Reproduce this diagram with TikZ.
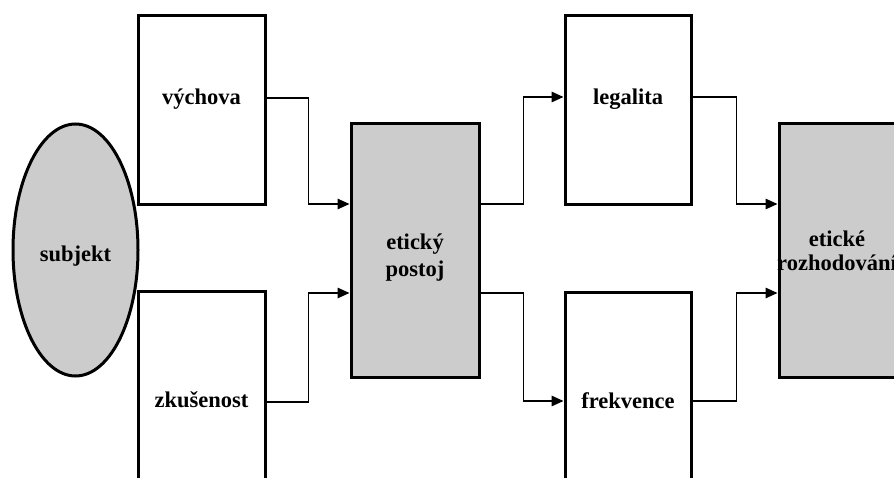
\documentclass[tikz,border=0pt]{standalone}
\usepackage{fontspec}
\setmainfont{Liberation Serif}
\usetikzlibrary{positioning,arrows.meta,shapes.geometric}
\definecolor{shade}{RGB}{204,204,204}

\begin{document}
\begin{tikzpicture}[x=1pt, y=-1pt,
    box/.style={rectangle, draw, line width=3pt, inner sep=0pt},
    blob/.style={ellipse, draw, line width=3pt, fill=shade, inner sep=0pt, minimum width=125pt, minimum height=252pt},
    lbl/.style={font=\bfseries\fontsize{22.5}{26}\selectfont, inner sep=0pt, align=center},
    conn/.style={-{Triangle[length=12pt, width=10.5pt]}, line width=1.5pt},
]
\useasboundingbox (0,0) rectangle (894,478);

% Subject
\node[blob] (subj) at (75.5,250) {};

% Inputs
\node[box, minimum width=127pt, minimum height=189pt] (vych) at (201.5,110.5) {};
\node[box, minimum width=127pt, minimum height=189pt] (zkus) at (201.5,386.5) {};

% Attitude
\node[box, fill=shade, minimum width=128pt, minimum height=253pt] (post) at (415,250.5) {};

% Outputs
\node[box, minimum width=126pt, minimum height=189pt] (leg) at (628,110.5) {};
\node[box, minimum width=126pt, minimum height=189pt] (frek) at (628,387.5) {};

% Decision
\node[box, fill=shade, minimum width=128pt, minimum height=253pt] (rozh) at (843,250.5) {};

% Texts
\node[lbl, anchor=base] (subjT) at (75.5,261.5) {subjekt};
\node[lbl, anchor=base] (vychT) at (201.5,105) {výchova};
\node[lbl, anchor=base] (zkusT) at (201.5,407.5) {zkušenost};
\node[lbl] (postT) at (415,257.5) {etický\\[1.5pt]postoj};
\node[lbl, anchor=base] (legT) at (628,105) {legalita};
\node[lbl, anchor=base] (frekT) at (628,408) {frekvence};
\node[lbl] (rozhT) at (837,251) {etické\\[-2pt]rozhodování};

% Connectors into the attitude
\draw[conn] ([yshift=12.5]vych.east) -- ++(42,0) |- ([yshift=46.5]post.west);
\draw[conn] ([yshift=-15.5]zkus.east) -- ++(42,0) |- ([yshift=-42.5]post.west);

% Connectors out of the attitude
\draw[conn] ([yshift=46.5]post.east) -- ++(43,0) |- ([yshift=13.5]leg.west);
\draw[conn] ([yshift=-42.5]post.east) -- ++(43,0) |- ([yshift=-13.5]frek.west);

% Connectors into the decision
\draw[conn] ([yshift=13.5]leg.east) -- ++(44,0) |- ([yshift=46.5]rozh.west);
\draw[conn] ([yshift=-13.5]frek.east) -- ++(44,0) |- ([yshift=-42.5]rozh.west);
\end{tikzpicture}
\end{document}
